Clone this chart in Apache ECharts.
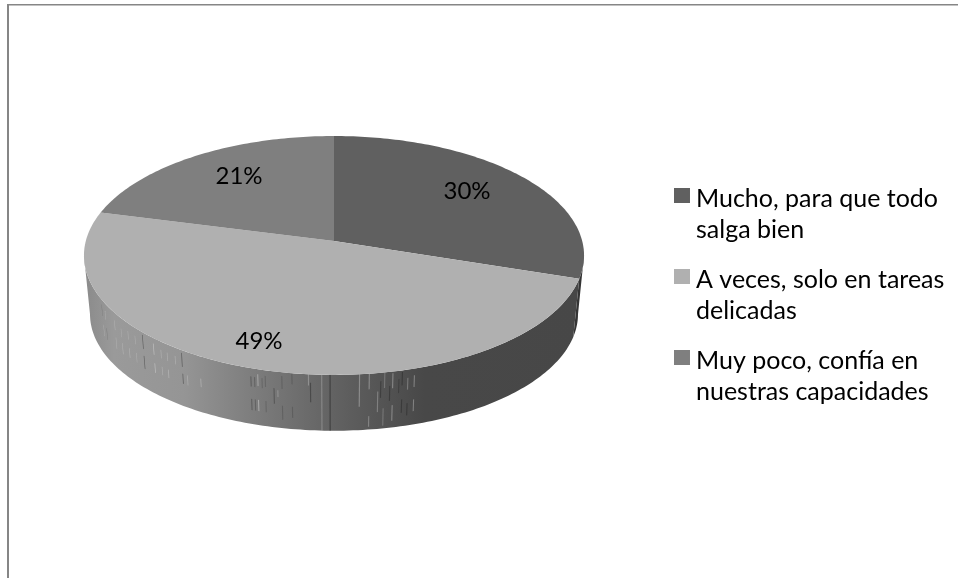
<!DOCTYPE html>
<html><head><meta charset="utf-8">
<style>html,body{margin:0;padding:0;background:#fff}#c{width:958px;height:578px}</style>
<script src="https://cdn.jsdelivr.net/npm/echarts@6/dist/echarts.min.js"></script>
</head><body><div id="c"></div>
<script>
const categories = ['Mucho, para que todo\nsalga bien', 'A veces, solo en tareas\ndelicadas', 'Muy poco, confía en\nnuestras capacidades'];
const values = [30, 49, 21];
const sliceColors = ['#606060', '#b0b0b0', '#7f7f7f'];
const labelSpots = [[467, 191], [259, 341], [239, 176]];

// perspective disc geometry
const top_ = {cx: 334, cy: 241, rx: 248.2, ry: 117.7};
const bot_ = {cx: 334, cy: 300, rx: 242.2, ry: 114.9};
const persp = -0.121;
const total = values.reduce((a, b) => a + b, 0);
const rimStart = 97, rimEnd = 263;

// rim shading stops and the banding texture seen on the rim: [angle, depth from, depth to, tone]
const rimStops = [[0, '#8a8a8a'], [0.06, '#9a9a9a'], [0.2, '#959595'], [0.32, '#808080'], [0.5, '#626262'], [0.68, '#484848'], [1, '#474747']];
const rimTexture = [
  [197.3,.15,.33,-.25],[197.3,.55,.75,-.25],[196.5,.15,.33,-.2],[196.5,.55,.75,-.2],[195.8,.09,.3,.3],[195.8,.55,.75,.35],
  [194.9,.15,.33,-.15],[194.2,.1,.3,-.15],[194.2,.55,.75,-.15],[192.4,.3,.58,-.25],[191.6,.33,.45,.2],[190.7,.07,.3,-.15],[190.7,.6,.85,-.15],
  [188.6,0,.2,-.15],[188.6,.6,.8,-.15],[185.2,0,.2,.25],[184.8,.15,.5,-.3],[182.5,0,1,.22],[180.8,0,1,-.35],
  [174.8,0,.58,.3],[172.8,0,.28,.3],[172.8,.76,.95,.25],[171,.33,.7,.25],[170.4,.15,.45,-.25],[169.6,0,.28,.2],[169.8,.64,.95,.2],
  [168.5,.25,.52,-.25],[167.9,.03,.3,.3],[167.9,.6,.88,.3],[166.6,.15,.4,-.2],[165.9,.03,.27,-.25],[165.9,.52,.76,-.25],
  [164.7,.15,.36,.25],[164.7,.6,.82,-.25],[163.3,.12,.33,.3],[163.3,.55,.76,.3],
  [242.4,.1,.3,-.2],[242.4,.45,.65,.3],[240.6,.15,.3,.3],[240.6,.45,.65,-.2],[235.9,.15,.32,.25],[235.9,.45,.65,.25],[233.1,.2,.35,.2],[233.1,.45,.65,.25],
  [230.3,.15,.3,.2],[230.3,.45,.62,.25],[227.7,.15,.3,.2],[227.7,.45,.62,.2],[225,.05,.3,-.35],[225,.42,.65,-.35],[221.6,.1,.3,.35],[221.6,.45,.62,.35],
  [219.4,.15,.3,.2],[219.4,.45,.6,.2],[217.6,.15,.3,.2],[217.6,.45,.6,.25],[215.4,.15,.3,.2],[213.6,.05,.3,-.3],[213.6,.42,.6,-.3],[212.4,.42,.6,.2],[209,.4,.55,.25]
];

function pt(g, deg) {
  const r = deg * Math.PI / 180, u = Math.sin(r), v = -Math.cos(r), w = 1 + persp * v;
  return [g.cx + g.rx * u / w, g.cy + g.ry * v / w];
}
function lerp(a, b, t) { return [a[0] + (b[0] - a[0]) * t, a[1] + (b[1] - a[1]) * t]; }
function arc(g, a0, a1) {
  const out = [], n = Math.max(2, Math.ceil(Math.abs(a1 - a0)));
  for (let i = 0; i <= n; i++) out.push(pt(g, a0 + (a1 - a0) * i / n));
  return out;
}
function rimFill(idx) {
  if (idx === 0) return '#343434';
  return new echarts.graphic.LinearGradient(84, 0, 584, 0, rimStops.map(s => ({offset: s[0], color: s[1]})), true);
}
function renderSlice(idx) {
  return function (params, api) {
    let before = 0;
    for (let i = 0; i < idx; i++) before += values[i];
    const a0 = before / total * 360, a1 = (before + api.value(0)) / total * 360;
    const children = [];
    const s0 = Math.max(a0, rimStart), s1 = Math.min(a1, rimEnd);
    if (s1 > s0) {
      children.push({type: 'polygon', shape: {points: arc(top_, s0, s1).concat(arc(bot_, s1, s0))}, style: {fill: rimFill(idx)}});
      rimTexture.filter(t => t[0] > s0 && t[0] < s1).forEach(t => {
        const h = 0.12, A = pt(top_, t[0] - h), B = pt(top_, t[0] + h), C = pt(bot_, t[0] + h), D = pt(bot_, t[0] - h);
        children.push({
          type: 'polygon', silent: true,
          shape: {points: [lerp(A, D, t[1]), lerp(B, C, t[1]), lerp(B, C, t[2]), lerp(A, D, t[2])]},
          style: {fill: t[3] > 0 ? '#fff' : '#000', opacity: Math.abs(t[3])}
        });
      });
    }
    children.push({
      type: 'polygon',
      shape: {points: [[top_.cx, top_.cy]].concat(arc(top_, a0, a1))},
      style: {fill: sliceColors[idx]}
    });
    children.push({
      type: 'text',
      style: {text: Math.round(api.value(0) / total * 100) + '%', x: labelSpots[idx][0], y: labelSpots[idx][1],
        align: 'center', verticalAlign: 'middle', font: '24px Lato, sans-serif', fill: '#000'}
    });
    return {type: 'group', children};
  };
}
const chart = echarts.init(document.getElementById('c'), null, {renderer: 'canvas'});
chart.setOption({
  animation: false,
  backgroundColor: '#fff',
  legend: {
    orient: 'vertical', left: 674, top: 183, padding: 0, itemWidth: 17, itemHeight: 62, itemGap: 19, align: 'left',
    icon: 'path://M0 5H16V20H0Z M17 62h0.01v0.01z M0 0h0.01v0.01z', symbolKeepAspect: false, selectedMode: false,
    data: categories,
    textStyle: {fontFamily: 'Lato, sans-serif', fontSize: 25, lineHeight: 31, color: '#000'},
    itemStyle: {borderWidth: 0}
  },
  graphic: [
    {type: 'rect', shape: {x: 7, y: 4, width: 951, height: 1.5}, style: {fill: '#868686'}, silent: true},
    {type: 'rect', shape: {x: 7, y: 4, width: 2, height: 574}, style: {fill: '#868686'}, silent: true}
  ],
  series: values.map((v, i) => ({
    type: 'custom', name: categories[i], coordinateSystem: 'none',
    itemStyle: {color: sliceColors[i]}, silent: true,
    renderItem: renderSlice(i), data: [[v]]
  }))
});
</script></body></html>
